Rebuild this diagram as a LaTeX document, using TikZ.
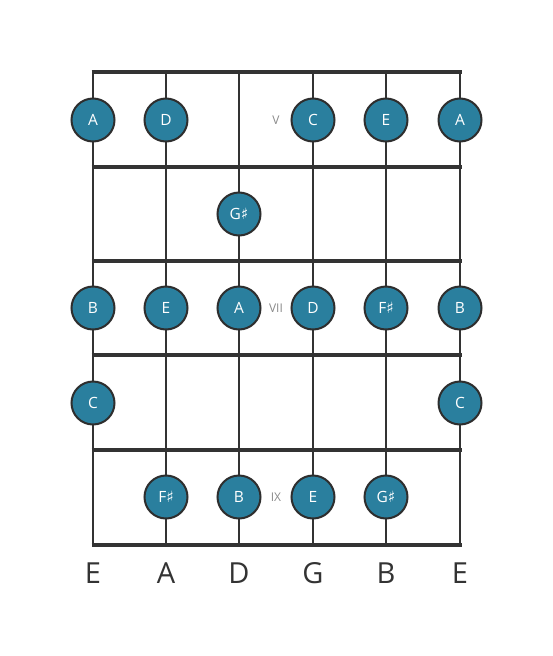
\documentclass[tikz,border=0pt]{standalone}
\usepackage{fontspec}
\setmainfont{Open Sans}
\newfontfamily\symfont{DejaVu Sans}
\definecolor{noteblue}{HTML}{2A7F9E}
\definecolor{wire}{HTML}{333333}
\definecolor{fretlbl}{HTML}{8A8A8A}
\newcommand{\shp}{{\symfont\char"266F}}
\begin{document}
\begin{tikzpicture}[x=1pt,y=-1pt,
  note/.style={circle,draw=wire!90!black,line width=2pt,fill=noteblue,minimum size=43pt,inner sep=0pt,text=white,font=\fontsize{15.5}{17}\selectfont},
  fretline/.style={wire,line width=4.3pt},
  stringline/.style={wire,line width=2.6pt},
  fretnum/.style={text=fretlbl,font=\fontsize{12}{14}\selectfont},
  strname/.style={text=wire,font=\fontsize{29}{31}\selectfont}]
\useasboundingbox (0,0) rectangle (553,656);
% string coordinates
\foreach \n/\x in {1/93,2/166,3/239,4/313,5/386,6/460}{
  \coordinate (st\n) at (\x,72);
  \coordinate (sb\n) at (\x,545);
}
\foreach \n in {1,...,6}{ \draw[stringline] (st\n) -- (sb\n); }
% frets
\foreach \f/\y in {0/72,1/167,2/261,3/355,4/450,5/545}{
  \coordinate (fl\f) at (91.5,\y);
  \coordinate (fr\f) at (461.5,\y);
  \draw[fretline] (fl\f) -- (fr\f);
}
% notes
\node[note] (n1a) at (93,120) {A};
\node[note] (n1b) at (166,120) {D};
\node[note] (n1c) at (313,120) {C};
\node[note] (n1d) at (386,120) {E};
\node[note] (n1e) at (460,120) {A};
\node[fretnum] (v5) at (276,120) {V};
\node[note] (n2a) at (239,214) {G\shp};
\node[note] (n3a) at (93,308) {B};
\node[note] (n3b) at (166,308) {E};
\node[note] (n3c) at (239,308) {A};
\node[note] (n3d) at (313,308) {D};
\node[note] (n3e) at (386,308) {F\shp};
\node[note] (n3f) at (460,308) {B};
\node[fretnum] (v7) at (276,308) {VII};
\node[note] (n4a) at (93,403) {C};
\node[note] (n4b) at (460,403) {C};
\node[note] (n5a) at (166,497) {F\shp};
\node[note] (n5b) at (239,497) {B};
\node[note] (n5c) at (313,497) {E};
\node[note] (n5d) at (386,497) {G\shp};
\node[fretnum] (v9) at (276,497) {IX};
% string names
\foreach \n/\x/\t in {1/93/E,2/166/A,3/239/D,4/313/G,5/386/B,6/460/E}{
  \node[strname] (name\n) at (\x,573) {\t};
}
\end{tikzpicture}
\end{document}
